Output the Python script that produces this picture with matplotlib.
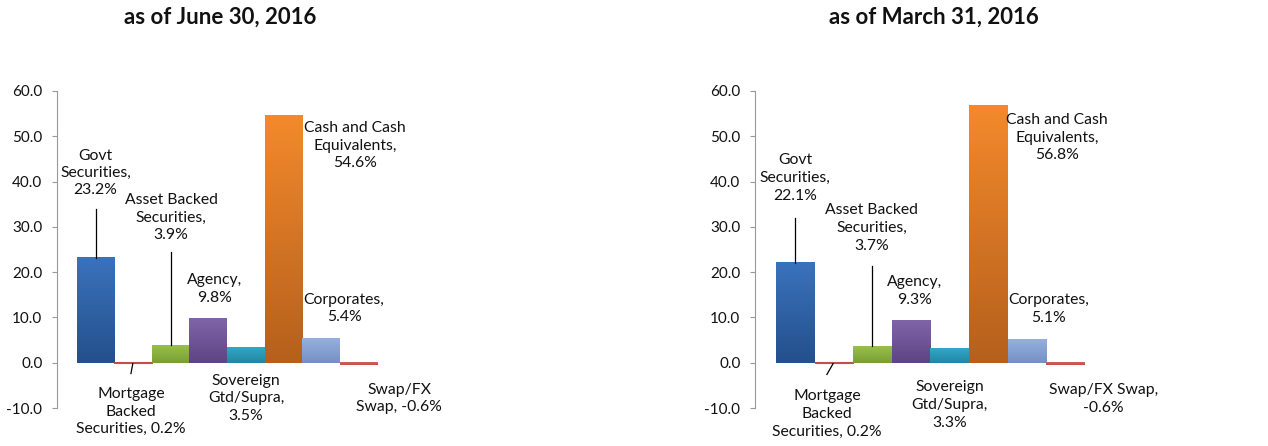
import numpy as np
import matplotlib
matplotlib.use('Agg')
import matplotlib.pyplot as plt
from matplotlib.colors import LinearSegmentedColormap, to_rgb

plt.rcParams['font.family'] = ['Lato', 'DejaVu Sans']

# data
categories = ['Govt\nSecurities', 'Mortgage\nBacked\nSecurities', 'Asset Backed\nSecurities',
              'Agency', 'Sovereign\nGtd/Supra', 'Cash and Cash\nEquivalents', 'Corporates', 'Swap/FX\nSwap']
june_vals  = [23.2, 0.2, 3.9, 9.8, 3.5, 54.6, 5.4, -0.6]
march_vals = [22.1, 0.2, 3.7, 9.3, 3.3, 56.8, 5.1, -0.6]
titles     = ['as of June 30, 2016', 'as of March 31, 2016']
yticks     = [-10, 0, 10, 20, 30, 40, 50, 60]

# (top colour, bottom colour) per bar
bar_colors = [('#3A72BC', '#24508C'), ('#D9605C', '#C0504D'), ('#98C04A', '#7A9E36'),
              ('#8064A8', '#5E4484'), ('#31A8C8', '#2286A2'), ('#F3892C', '#B5601C'),
              ('#95B0DE', '#7590C4'), ('#D9605C', '#C0504D')]

# label text (wrapped as in the picture) and where it sits, data coords
june_text = ['Govt\nSecurities,\n23.2%', 'Mortgage\nBacked\nSecurities, 0.2%',
             'Asset Backed\nSecurities,\n3.9%', 'Agency,\n9.8%', 'Sovereign\nGtd/Supra,\n3.5%',
             'Cash and Cash\nEquivalents,\n54.6%', 'Corporates,\n5.4%', 'Swap/FX\nSwap, -0.6%']
june_pos = [(0.0, 41.9), (0.94, -10.8), (2.01, 32.0), (3.18, 16.3), (4.01, -7.9),
            (6.91, 47.9), (6.62, 11.9), (8.09, -7.9)]
june_leaders = [((0.0, 34.0), (0.0, 23.2)), ((0.99, -0.2), (0.94, -2.4)), ((2.01, 24.5), (2.01, 3.9))]

march_text = ['Govt\nSecurities,\n22.1%', 'Mortgage\nBacked\nSecurities, 0.2%',
              'Asset Backed\nSecurities,\n3.7%', 'Agency,\n9.3%', 'Sovereign\nGtd/Supra,\n3.3%',
              'Cash and Cash\nEquivalents,\n56.8%', 'Corporates,\n5.1%', 'Swap/FX Swap,\n-0.6%']
march_pos = [(0.0, 40.8), (0.82, -11.3), (1.98, 29.8), (3.10, 15.9), (4.0, -9.3),
             (6.78, 49.7), (6.55, 11.9), (7.97, -8.0)]
march_leaders = [((0.0, 32.0), (0.0, 22.1)), ((0.98, -0.2), (0.82, -2.6)), ((1.98, 21.4), (1.98, 3.7))]

W, H = 1268, 446
fig = plt.figure(figsize=(W / 100, H / 100), dpi=100)

def draw_panel(rect, vals, texts, pos, leaders, title, title_x, xlim, linesp):
    ax = fig.add_axes(rect)
    x = np.arange(len(vals))
    bars = ax.bar(x, vals, width=1.0, color='none', edgecolor='none')
    for b, (top, bot) in zip(bars, bar_colors):
        x0 = b.get_x()
        x1 = x0 + b.get_width()
        y0 = min(0, b.get_height())
        y1 = max(0, b.get_height())
        if y1 - y0 < 0.5:
            ax.fill_between([x0, x1], y0, y1, color=bot, lw=0.8, edgecolor=bot, zorder=2)
            continue
        cmap = LinearSegmentedColormap.from_list('g', [to_rgb(bot), to_rgb(top)])
        grad = np.linspace(0, 1, 64).reshape(-1, 1)
        ax.imshow(grad, extent=(x0, x1, y0, y1), origin='lower', aspect='auto',
                  cmap=cmap, zorder=2, interpolation='bicubic')
    for t, (tx, ty) in zip(texts, pos):
        ax.text(tx, ty, t, ha='center', va='center', fontsize=11.3, color='#111111',
                linespacing=linesp, zorder=4)
    for (a, b) in leaders:
        ax.plot([a[0], b[0]], [a[1], b[1]], color='black', lw=0.9, zorder=3)
    ax.set_xlim(*xlim)
    ax.set_ylim(-10, 60)
    ax.set_yticks(yticks)
    ax.set_yticklabels(['%.1f' % v for v in yticks], fontsize=11, color='#111111')
    ax.set_xticks([])
    for s in ['top', 'right', 'bottom']:
        ax.spines[s].set_visible(False)
    ax.spines['left'].set_color('#999999')
    ax.tick_params(axis='y', length=3.5, color='#999999', pad=7)
    fig.text(title_x, 1 - 17 / H, title, ha='center', va='center', fontsize=16,
             fontweight='bold', color='#111111')
    return ax

draw_panel([57 / W, 1 - 408 / H, 340 / W, 317 / H], june_vals, june_text, june_pos,
           june_leaders, titles[0], 220 / W, (-1.03, 8.03), 1.3)
draw_panel([755 / W, 1 - 408 / H, 351 / W, 317 / H], march_vals, march_text, march_pos,
           march_leaders, titles[1], 934 / W, (-1.04, 8.04), 1.35)

fig.savefig('out.png', dpi=100)
